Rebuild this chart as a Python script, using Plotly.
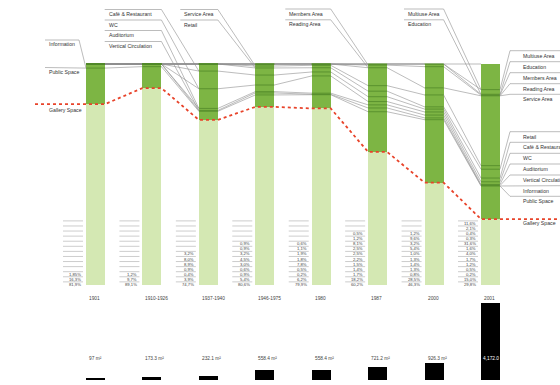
import plotly.graph_objects as go

# ---------------- data ----------------
periods = ["1901", "1910-1926", "1937-1940", "1946-1975", "1980", "1987", "2000", "2001"]
categories = ["Multiuse Area", "Education", "Members Area", "Reading Area", "Service Area",
              "Retail", "Café & Restaurant", "WC", "Auditorium", "Vertical Circulation",
              "Information", "Public Space", "Gallery Space"]

# share of floor area (%) per category, top-to-bottom order; None = not present
share_1901 = [None] * 10 + [1.85, 16.3, 81.9]
share_1910 = [None] * 10 + [1.2, 9.7, 89.1]
share_1937 = [None] * 6 + [3.2, 8.0, 8.9, 0.9, 0.4, 3.9, 74.7]
share_1946 = [None] * 4 + [0.9, 0.9, 3.2, 4.5, 3.0, 0.6, 0.9, 5.4, 80.6]
share_1980 = [None] * 4 + [0.6, 1.1, 1.9, 1.8, 7.8, 0.5, 0.2, 6.2, 79.9]
share_1987 = [None] * 2 + [0.5, 1.2, 8.1, 2.5, 2.5, 2.2, 1.5, 1.4, 1.7, 18.2, 60.2]
share_2000 = [None] * 2 + [1.2, 9.6, 3.2, 5.4, 1.0, 1.3, 1.4, 1.3, 0.8, 28.5, 46.3]
share_2001 = [11.6, 2.1, 0.4, 0.3, 31.6, 1.6, 4.0, 1.7, 1.2, 0.5, 0.2, 15.0, 29.8]
shares = [share_1901, share_1910, share_1937, share_1946, share_1980, share_1987, share_2000, share_2001]

areas = [97, 173.3, 232.1, 558.4, 558.4, 721.2, 926.3, 4172.0]
area_labels = ["97 m²", "173.3 m²", "232.1 m²", "558.4 m²", "558.4 m²", "721.2 m²", "926.3 m²", "4,172.0"]

# ---------------- layout helpers (pixel -> axis units) ----------------
W, H = 560, 385
COL0_PX, COL_STEP = 95.5, 56.43
BAR_TOP_PX, BAR_PX = 64.0, 221.0
AREA_BASE_PX, AREA_PX_PER = 380.0, 77.0 / 4172.0


def X(px):
    return (px - COL0_PX) / COL_STEP


def Y(px):
    return (px - BAR_TOP_PX) / BAR_PX * 100.0


BW = 19.0 / COL_STEP
HALF = BW / 2

DARK = "#7db544"
LIGHT = "#d4e8b3"
LINE_IN = "#52892a"
GREY = "#8f8f8f"
RED = "#e8432a"
TXT = "#333333"
FONT = "Liberation Sans, Arial, sans-serif"

n_cols = len(periods)
n_cat = len(categories)

# cumulative tops of each band
tops = []
for s in shares:
    acc, t = 0.0, []
    for v in s:
        t.append(acc)
        acc += (v or 0.0)
    tops.append(t)

fig = go.Figure()

# stacked bars
for j, cat in enumerate(categories):
    xs = [i for i in range(n_cols) if shares[i][j] is not None]
    ys = [shares[i][j] for i in xs]
    fig.add_trace(go.Bar(
        x=xs, y=ys, width=BW, name=cat,
        marker=dict(color=LIGHT if cat == "Gallery Space" else DARK, line=dict(width=0)),
        hoverinfo="skip", showlegend=False))

# grey connecting lines between columns
gx, gy = [], []
for i in range(n_cols - 1):
    for j in range(n_cat - 1):
        gx += [i + HALF, i + 1 - HALF, None]
        gy += [tops[i][j], tops[i + 1][j], None]
fig.add_trace(go.Scatter(x=gx, y=gy, mode="lines", line=dict(color=GREY, width=0.6),
                         hoverinfo="skip", showlegend=False))

# darker separators inside the bars
sx, sy = [], []
for i in range(n_cols):
    for j in range(1, n_cat - 1):
        sx += [i - HALF, i + HALF, None]
        sy += [tops[i][j], tops[i][j], None]
fig.add_trace(go.Scatter(x=sx, y=sy, mode="lines", line=dict(color=LINE_IN, width=0.8),
                         hoverinfo="skip", showlegend=False))

# red dotted gallery boundary
rx, ry = [X(35)], [tops[0][-1]]
for i in range(n_cols):
    rx += [i - HALF, i + HALF]
    ry += [tops[i][-1], tops[i][-1]]
rx.append(X(560))
ry.append(tops[-1][-1])
fig.add_trace(go.Scatter(x=rx, y=ry, mode="lines", line=dict(color=RED, width=1.8, dash="dot"),
                         hoverinfo="skip", showlegend=False))


def target(col, j):
    v = shares[col][j] or 0.0
    return tops[col][j] if v > 13.6 else tops[col][j] + v


annotations = []
lx, ly = [], []


def label(px, py, text, anchor="left", size=5.2, color=TXT):
    annotations.append(dict(x=X(px), y=Y(py), text=text, showarrow=False, xanchor=anchor,
                            yanchor="middle", font=dict(family=FONT, size=size, color=color)))


def leader(points):
    for p in points:
        lx.append(p[0])
        ly.append(p[1])
    lx.append(None)
    ly.append(None)


# top labels for categories appearing later
top_labels = {
    "Café & Restaurant": (106.7, 14.0), "WC": (106.7, 24.5), "Auditorium": (106.7, 35.0),
    "Vertical Circulation": (106.7, 46.0), "Service Area": (182.3, 14.0), "Retail": (182.3, 24.5),
    "Members Area": (287.3, 13.5), "Reading Area": (287.3, 24.3),
    "Multiuse Area": (406.0, 13.5), "Education": (406.0, 24.3),
}
for cat, (px, py) in top_labels.items():
    j = categories.index(cat)
    col = next(i for i in range(n_cols) if shares[i][j] is not None)
    label(px, py, cat)
    leader([(X(px - 2), Y(py - 4.5)), (col - 1 + HALF, Y(py - 4.5)), (col - HALF, target(col, j))])

# left labels (1901)
label(47, 44, "Information")
leader([(X(45), Y(40)), (X(79), Y(40)), (0 - HALF, target(0, 10))])
label(47, 72, "Public Space")
leader([(X(45), Y(67.5)), (X(80), Y(67.5)), (0 - HALF, target(0, 11))])
label(47, 110, "Gallery Space")

# right labels (2001)
right_y = [55.7, 66.7, 77.7, 88.7, 99.3, 136.7, 147.3, 158.3, 169.0, 180.0, 190.7, 201.3]
for j, py in enumerate(right_y):
    label(521, py, categories[j])
    leader([(X(560), Y(py - 5)), (X(510), Y(py - 5)), (7 + HALF, target(7, j))])
label(521, 223, "Gallery Space")

fig.add_trace(go.Scatter(x=lx, y=ly, mode="lines", line=dict(color=GREY, width=0.6),
                         hoverinfo="skip", showlegend=False))

# percentage tables
row_y0, row_dy = 223.5, 5.08
tx, ty = [], []
for i, s in enumerate(shares):
    left_px = COL0_PX + i * COL_STEP - 9.5
    present = [v for v in s if v is not None]
    for k in range(n_cat):
        yline = row_y0 - 2.6 + k * row_dy
        tx += [X(left_px - 23), X(left_px - 3), None]
        ty += [Y(yline), Y(yline), None]
    start = n_cat - len(present)
    for m, v in enumerate(present):
        txt = (f"{v:.2f}" if round(v, 1) != v else f"{v:.1f}").replace(".", ",") + "%"
        label(left_px - 3, row_y0 + (start + m) * row_dy, txt, anchor="right", size=4.2, color="#444")
fig.add_trace(go.Scatter(x=tx, y=ty, mode="lines", line=dict(color="#9a9a9a", width=0.5),
                         hoverinfo="skip", showlegend=False))

# year labels and area labels
for i, p in enumerate(periods):
    left_px = COL0_PX + i * COL_STEP - 9.5
    label(left_px + 1, 298, p, size=4.8, color="#444")
    label(left_px + (1 if i < n_cols - 1 else 0), 358, area_labels[i], size=4.8,
          color="#444" if i < n_cols - 1 else "white")

# area bars (black)
fig.add_trace(go.Bar(x=list(range(n_cols)), y=areas, width=BW, xaxis="x2", yaxis="y2",
                     marker=dict(color="black", line=dict(width=0)), hoverinfo="skip", showlegend=False))

y2_range = [-(H - AREA_BASE_PX) / AREA_PX_PER, AREA_BASE_PX / AREA_PX_PER]

fig.update_layout(
    width=W, height=H, margin=dict(l=0, r=0, t=0, b=0),
    paper_bgcolor="white", plot_bgcolor="white",
    barmode="stack", bargap=0,
    xaxis=dict(range=[X(0), X(W)], visible=False, fixedrange=True),
    yaxis=dict(range=[Y(H), Y(0)], visible=False, fixedrange=True),
    xaxis2=dict(range=[X(0), X(W)], visible=False, overlaying="x", fixedrange=True),
    yaxis2=dict(range=y2_range, visible=False, overlaying="y", fixedrange=True),
    annotations=annotations,
    showlegend=False,
)

fig.write_html("out.html", post_script="document.body.style.margin='0px';",
               config={"displayModeBar": False})
